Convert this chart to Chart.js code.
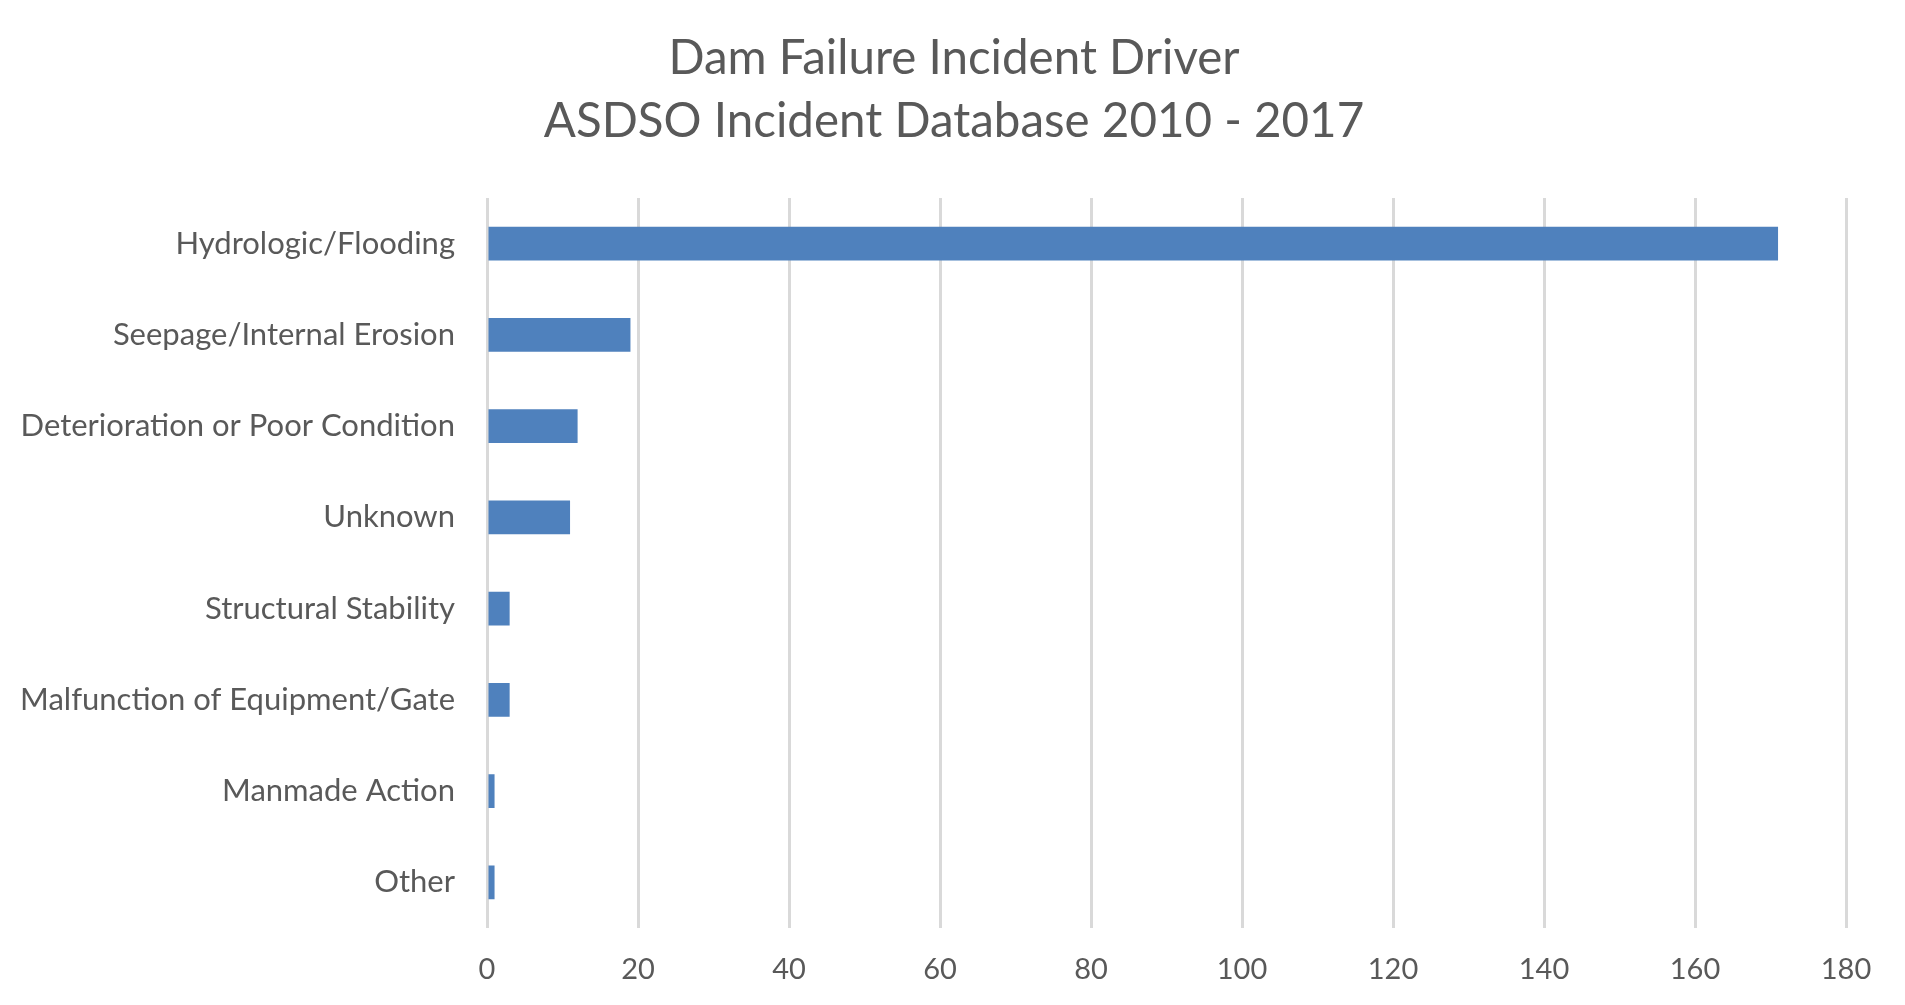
<!DOCTYPE html>
<html>
<head>
<meta charset="utf-8">
<script src="https://cdn.jsdelivr.net/npm/chart.js@4.4.1/dist/chart.umd.min.js"></script>
<style>
  html, body { margin: 0; padding: 0; background: #ffffff; }
  #wrap { width: 1905px; height: 1005px; position: relative; }
</style>
</head>
<body>
<div id="wrap"><canvas id="c"></canvas></div>
<script>
const titleLines = ["Dam Failure Incident Driver", "ASDSO Incident Database 2010 - 2017"];
const categories = [
  "Hydrologic/Flooding",
  "Seepage/Internal Erosion",
  "Deterioration or Poor Condition",
  "Unknown",
  "Structural Stability",
  "Malfunction of Equipment/Gate",
  "Manmade Action",
  "Other"
];
const incidents = [171, 19, 12, 11, 3, 3, 1, 1];
const xTicks = [0, 20, 40, 60, 80, 100, 120, 140, 160, 180];

const textColor = "#595959";
const gridColor = "#D9D9D9";
const fontFamily = "Lato, 'Open Sans', sans-serif";

// Two-line chart title, drawn as canvas text (centred like the original)
const titlePlugin = {
  id: "twoLineTitle",
  afterDraw(chart) {
    const ctx = chart.ctx;
    ctx.save();
    ctx.fillStyle = textColor;
    ctx.font = "normal 47.5px " + fontFamily;
    ctx.textAlign = "center";
    ctx.textBaseline = "middle";
    titleLines.forEach((line, i) => ctx.fillText(line, 954, 59 + i * 63));
    ctx.restore();
  }
};

new Chart(document.getElementById("c"), {
  type: "bar",
  data: {
    labels: categories,
    datasets: [{
      data: incidents,
      backgroundColor: "#4F81BD",
      borderWidth: 0,
      categoryPercentage: 1.0,
      barPercentage: 0.37
    }]
  },
  options: {
    indexAxis: "y",
    responsive: true,
    maintainAspectRatio: false,
    animation: false,
    devicePixelRatio: 1,
    layout: { padding: { left: 0, right: 59, top: 198, bottom: 0 } },
    plugins: {
      legend: { display: false },
      tooltip: { enabled: false },
      title: { display: false }
    },
    scales: {
      x: {
        type: "linear",
        min: xTicks[0],
        max: xTicks[xTicks.length - 1],
        afterBuildTicks: (axis) => { axis.ticks = xTicks.map(v => ({ value: v })); },
        afterFit: (axis) => { axis.height = 1005 - 928; },
        border: { display: false },
        grid: { color: gridColor, lineWidth: 3, drawTicks: false },
        ticks: {
          color: textColor,
          font: { family: fontFamily, size: 29 },
          padding: 24
        }
      },
      y: {
        afterFit: (axis) => { axis.width = 487; },
        border: { display: false },
        grid: { display: false, drawTicks: false },
        ticks: {
          color: textColor,
          font: { family: fontFamily, size: 31 },
          padding: 32
        }
      }
    }
  },
  plugins: [titlePlugin]
});
</script>
</body>
</html>
